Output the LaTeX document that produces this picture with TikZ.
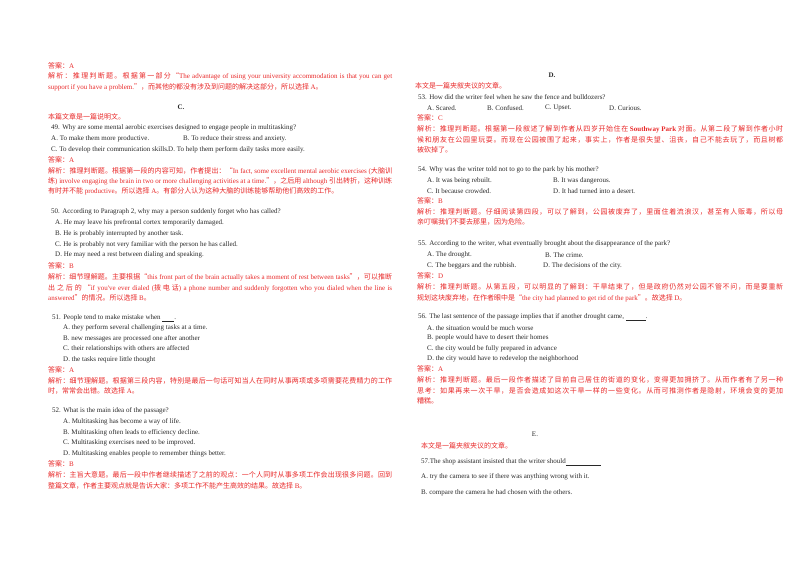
\documentclass[tikz,border=0pt]{standalone}
\usepackage{fontspec}
\setmainfont{Liberation Serif}
\newfontfamily\engf{Liberation Serif}
\newfontfamily\cjk{Noto Sans CJK SC}
\XeTeXinterchartokenstate=1
\newXeTeXintercharclass\cjkclass
\newcount\cc
\cc="4E00 \loop\ifnum\cc<"A000 \XeTeXcharclass\cc=\cjkclass \advance\cc 1 \repeat
\cc="3000 \loop\ifnum\cc<"3040 \XeTeXcharclass\cc=\cjkclass \advance\cc 1 \repeat
\cc="FF00 \loop\ifnum\cc<"FFF0 \XeTeXcharclass\cc=\cjkclass \advance\cc 1 \repeat
\XeTeXcharclass"201C=\cjkclass
\XeTeXcharclass"201D=\cjkclass
\XeTeXinterchartoks 0 \cjkclass = {\cjk}
\XeTeXinterchartoks 4095 \cjkclass = {\cjk}
\XeTeXinterchartoks \cjkclass 0 = {\engf}
\XeTeXinterchartoks 4095 0 = {\engf}
\XeTeXinterchartoks \cjkclass \cjkclass = {\hskip 0pt plus 3pt}
\definecolor{ans}{RGB}{232,40,40}
\definecolor{txt}{RGB}{40,40,40}
\newcommand{\jL}[1]{\makebox[344pt][s]{#1}}
\newcommand{\jR}[1]{\makebox[366pt][s]{#1}}
\tikzset{ln/.style={anchor=west,inner sep=0pt,font=\fontsize{7}{8}\selectfont,text=txt},
 rl/.style={ln,text=ans}}
\begin{document}
\begin{tikzpicture}[x=1pt,y=-1pt]
\useasboundingbox (0,0) rectangle (800,566);
% left column
\node[rl] (a1) at (48,66) {答案：A};
\node[rl] (a2) at (48,76) {\jL{解析：推理判断题。根据第一部分“The advantage of using your university accommodation is that you can get}};
\node[rl] (a3) at (48,87) {support if you have a problem.”，而其他的都没有涉及到问题的解决这部分，所以选择 A。};
\node[ln,anchor=center] (c) at (181,107) {\textbf{C.}};
\node[rl] (a4) at (48,117) {本篇文章是一篇说明文。};
\node[ln] (q49) at (51,128) {49. Why are some mental aerobic exercises designed to engage people in multitasking?};
\node[ln] (q49a) at (51,139) {A. To make them more productive.};
\node[ln] (q49b) at (183,139) {B. To reduce their stress and anxiety.};
\node[ln] (q49c) at (51,150) {C. To develop their communication skills.};
\node[ln] (q49d) at (168,150) {D. To help them perform daily tasks more easily.};
\node[rl] (a5) at (48,160) {答案：A};
\node[rl] (a6) at (48,171) {\jL{解析：推理判断题。根据第一段的内容可知，作者提出：“In fact, some excellent mental aerobic exercises (大脑训}};
\node[rl] (a7) at (48,181) {\jL{练) involve engaging the brain in two or more challenging activities at a time.”，之后用 although 引出转折，这种训练}};
\node[rl] (a8) at (48,191) {有时并不能 productive。所以选择 A。有部分人认为这种大脑的训练能够帮助他们高效的工作。};
\node[ln] (q50) at (51,212) {50. According to Paragraph 2, why may a person suddenly forget who has called?};
\node[ln] (q50a) at (55,223) {A. He may leave his prefrontal cortex temporarily damaged.};
\node[ln] (q50b) at (55,234) {B. He is probably interrupted by another task.};
\node[ln] (q50c) at (55,245) {C. He is probably not very familiar with the person he has called.};
\node[ln] (q50d) at (55,255) {D. He may need a rest between dialing and speaking.};
\node[rl] (a9) at (48,266) {答案：B};
\node[rl] (a10) at (48,277) {\jL{解析：细节理解题。主要根据“this front part of the brain actually takes a moment of rest between tasks”，可以推断}};
\node[rl] (a11) at (48,288) {\jL{出之后的“if you've ever dialed (拨电话) a phone number and suddenly forgotten who you dialed when the line is}};
\node[rl] (a12) at (48,298) {answered”的情况。所以选择 B。};
\node[ln] (q51) at (52,318) {51. People tend to make mistake when \underline{\hspace{12pt}}.};
\node[ln] (q51a) at (63,328) {A. they perform several challenging tasks at a time.};
\node[ln] (q51b) at (63,339) {B. new messages are processed one after another};
\node[ln] (q51c) at (63,349) {C. their relationships with others are affected};
\node[ln] (q51d) at (63,360) {D. the tasks require little thought};
\node[rl] (a13) at (48,370) {答案：A};
\node[rl] (a14) at (48,381) {\jL{解析：细节理解题。根据第三段内容，特别是最后一句话可知当人在同时从事两项或多项需要花费精力的工作}};
\node[rl] (a15) at (48,391) {时，常常会出错。故选择 A。};
\node[ln] (q52) at (52,411) {52. What is the main idea of the passage?};
\node[ln] (q52a) at (63,422) {A. Multitasking has become a way of life.};
\node[ln] (q52b) at (63,433) {B. Multitasking often leads to efficiency decline.};
\node[ln] (q52c) at (63,443) {C. Multitasking exercises need to be improved.};
\node[ln] (q52d) at (63,454) {D. Multitasking enables people to remember things better.};
\node[rl] (a16) at (48,464) {答案：B};
\node[rl] (a17) at (48,475) {\jL{解析：主旨大意题。最后一段中作者继续描述了之前的观点：一个人同时从事多项工作会出现很多问题。回到}};
\node[rl] (a18) at (48,486) {整篇文章，作者主要观点就是告诉大家：多项工作不能产生高效的结果。故选择 B。};
% right column
\node[ln,anchor=center] (d) at (552,75) {\textbf{D.}};
\node[rl] (b1) at (415,86) {本文是一篇夹叙夹议的文章。};
\node[ln] (q53) at (418,97) {53. How did the writer feel when he saw the fence and bulldozers?};
\node[ln] (q53a) at (427,108) {A. Scared.};
\node[ln] (q53b) at (487,108) {B. Confused.};
\node[ln] (q53c) at (545,108) {C. Upset.};
\node[ln] (q53d) at (609,108) {D. Curious.};
\node[rl] (b2) at (417,118) {答案：C};
\node[rl] (b3) at (417,129) {\jR{解析：推理判断题。根据第一段叙述了解到作者从四岁开始住在 \textbf{Southway Park} 对面。从第二段了解到作者小时}};
\node[rl] (b4) at (417,140) {\jR{候和朋友在公园里玩耍。而现在公园被围了起来，事实上，作者是很失望、沮丧，自己不能去玩了，而且树都}};
\node[rl] (b5) at (417,150) {被砍掉了。};
\node[ln] (q54) at (418,170) {54. Why was the writer told not to go to the park by his mother?};
\node[ln] (q54a) at (427,181) {A. It was being rebuilt.};
\node[ln] (q54b) at (553,181) {B. It was dangerous.};
\node[ln] (q54c) at (427,191) {C. It because crowded.};
\node[ln] (q54d) at (553,191) {D. It had turned into a desert.};
\node[rl] (b6) at (417,201) {答案：B};
\node[rl] (b7) at (417,212) {\jR{解析：推理判断题。仔细阅读第四段，可以了解到，公园被废弃了，里面住着流浪汉，甚至有人贩毒，所以母}};
\node[rl] (b8) at (417,222) {亲叮嘱我们不要去那里，因为危险。};
\node[ln] (q55) at (418,244) {55. According to the writer, what eventually brought about the disappearance of the park?};
\node[ln] (q55a) at (427,255) {A. The drought.};
\node[ln] (q55b) at (545,255) {B. The crime.};
\node[ln] (q55c) at (427,266) {C. The beggars and the rubbish.};
\node[ln] (q55d) at (543,266) {D. The decisions of the city.};
\node[rl] (b9) at (417,276) {答案：D};
\node[rl] (b10) at (417,287) {\jR{解析：推理判断题。从第五段，可以明显的了解到：干旱结束了，但是政府仍然对公园不管不问，而是要重新}};
\node[rl] (b11) at (417,298) {规划这块废弃地，在作者眼中是“the city had planned to get rid of the park”。故选择 D。};
\node[ln] (q56) at (418,317) {56. The last sentence of the passage implies that if another drought came, \underline{\hspace{20pt}}.};
\node[ln] (q56a) at (427,328) {A. the situation would be much worse};
\node[ln] (q56b) at (427,338) {B. people would have to desert their homes};
\node[ln] (q56c) at (427,349) {C. the city would be fully prepared in advance};
\node[ln] (q56d) at (427,359) {D. the city would have to redevelop the neighborhood};
\node[rl] (b12) at (417,369) {答案：A};
\node[rl] (b13) at (417,380) {\jR{解析：推理判断题。最后一段作者描述了目前自己居住的街道的变化，变得更加拥挤了。从而作者有了另一种}};
\node[rl] (b14) at (417,391) {\jR{思考：如果再来一次干旱，是否会造成如这次干旱一样的一些变化。从而可推测作者是隐射，环境会变的更加}};
\node[rl] (b15) at (417,401) {糟糕。};
\node[ln,anchor=center] (e) at (535,434) {E.};
\node[rl] (b16) at (421,446) {本文是一篇夹叙夹议的文章。};
\node[ln] (q57) at (421,462) {57.The shop assistant insisted that the writer should\underline{\hspace{35pt}}};
\node[ln] (q57a) at (421,477) {A. try the camera to see if there was anything wrong with it.};
\node[ln] (q57b) at (421,493) {B. compare the camera he had chosen with the others.};
\end{tikzpicture}
\end{document}
